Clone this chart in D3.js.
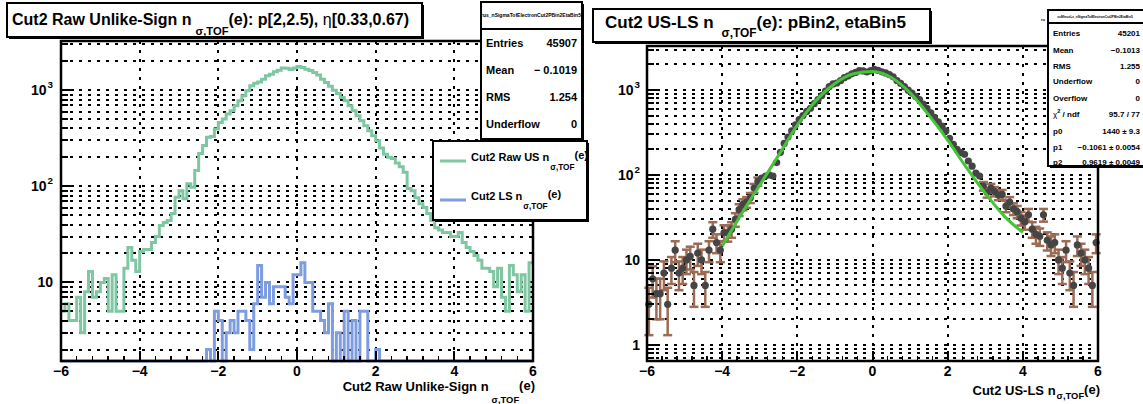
<!DOCTYPE html>
<html>
<head>
<meta charset="utf-8">
<script src="https://cdn.jsdelivr.net/npm/d3@7"></script>
<style>
    html, body { margin: 0; padding: 0; background: #fff; }
    svg { display: block; font-family: 'Liberation Sans', Arial, Helvetica, sans-serif; font-weight: bold; }
</style>
</head>
<body>
<svg id="chart" width="1143" height="404"></svg>
<script>
'use strict';

// 120 bins of 0.1 from -6 to 6
const xMin = -6, xMax = 6, binWidth = 0.1;
const xTicks = [-6, -4, -2, 0, 2, 4, 6];

// raw unlike-sign counts (green)
const usCounts = [
    5, 6, 4, 4, 7, 3, 8, 13, 7, 8, 10, 11, 5, 12, 5, 5, 14, 23, 17, 13,
    21, 22, 22, 26, 30, 39, 42, 44, 52, 77, 90, 74, 106, 98, 146, 220, 265, 323, 330, 394,
    462, 501, 565, 611, 689, 776, 875, 986, 1112, 1180, 1220, 1302, 1411, 1468, 1560, 1617, 1698, 1690, 1640, 1700,
    1760, 1720, 1650, 1600, 1527, 1440, 1300, 1200, 1100, 1000, 925, 841, 776, 689, 611, 542, 481, 427, 379, 336,
    298, 250, 215, 200, 195, 175, 160, 140, 95, 90, 76, 66, 60, 52, 44, 37, 35, 33, 33, 30,
    30, 33, 26, 23, 21, 19, 17, 14, 14, 13, 9, 14, 7, 5, 15, 12, 8, 12, 5, 16
];

// like-sign counts (blue)
const lsCounts = [
    0, 0, 0, 0, 0, 0, 0, 0, 0, 0, 0, 0, 0, 0, 0, 0, 0, 0, 0, 0,
    0, 0, 0, 0, 0, 0, 0, 0, 0, 0, 0, 0, 0, 0, 0, 0, 0, 2, 0, 5,
    4, 0, 3, 4, 3, 5, 5, 4, 2, 6, 15, 7, 10, 6, 9, 9, 9, 7, 6, 12,
    12, 16, 10, 10, 5, 5, 4, 3, 6, 0, 3, 0, 5, 0, 4, 0, 5, 5, 0, 0,
    2, 0, 0, 0, 0, 0, 0, 0, 0, 0, 0, 0, 0, 0, 0, 0, 0, 0, 0, 0,
    0, 0, 0, 0, 0, 0, 0, 0, 0, 0, 0, 0, 0, 0, 0, 0, 0, 0, 0, 0
];

// US-LS points and their errors
const diffCounts = [
    3, 6, 4, 4, 7, 3, 8, 13, 7, 8, 10, 11, 5, 12, 10, 5, 13, 23, 16, 13,
    21, 21, 23, 30, 39, 45, 48, 54, 70, 84, 92, 97, 100, 97, 140, 185, 235, 280, 330, 390,
    450, 500, 560, 610, 690, 770, 860, 970, 1100, 1180, 1210, 1290, 1400, 1460, 1550, 1610, 1690, 1680, 1630, 1690,
    1750, 1700, 1640, 1590, 1520, 1430, 1295, 1195, 1095, 995, 920, 838, 771, 685, 607, 538, 476, 422, 375, 330,
    270, 230, 200, 183, 175, 146, 127, 105, 97, 74, 62, 70, 64, 58, 59, 43, 48, 40, 37, 31,
    28, 34, 23, 20, 19, 34, 17, 15, 16, 10, 8, 13, 7, 5, 15, 12, 10, 8, 5, 16
];
const diffErrors = [
    1.7, 2.4, 2.0, 2.0, 2.6, 1.7, 2.8, 3.6, 2.6, 2.8, 3.2, 3.3, 2.2, 3.5, 3.2, 2.2, 3.6, 4.8, 4.0, 3.6,
    4.6, 4.6, 4.8, 5.5, 6.2, 6.7, 6.9, 7.3, 8.4, 9.2, 9.6, 9.8, 10, 9.8, 11.8, 13.6, 15.3, 16.7, 18.2, 19.7,
    21.3, 22.4, 23.7, 24.8, 26.3, 27.8, 29.4, 31.2, 33.2, 34.4, 35.0, 36.0, 37.5, 38.3, 39.5, 40.2, 41.2, 41.1, 40.5, 41.3,
    42.0, 41.4, 40.6, 40.0, 39.1, 37.9, 36.0, 34.6, 33.2, 31.5, 30.4, 29.0, 27.8, 26.2, 24.7, 23.2, 21.9, 20.6, 19.4, 18.2,
    16.5, 15.2, 14.2, 13.6, 13.3, 12.1, 11.3, 10.3, 9.9, 8.6, 7.9, 8.4, 8.0, 7.6, 7.7, 6.6, 6.9, 6.3, 6.1, 5.6,
    5.3, 5.8, 4.8, 4.5, 4.4, 5.8, 4.1, 3.9, 4.0, 3.2, 2.8, 3.6, 2.6, 2.2, 3.9, 3.5, 3.2, 2.8, 2.2, 4.0
];

// fit curve
const fitX = [-4, -3.5, -3, -2.5, -2, -1.5, -1, -0.5, 0, 0.5, 1, 1.5, 2, 2.5, 3, 3.5, 4];
const fitY = [14.5, 34, 76, 170, 386, 751, 1194, 1552, 1650, 1403, 925, 506, 257, 122, 61, 33, 21];

const leftStats = [['Entries', '45907'], ['Mean', '\u2212 0.1019'], ['RMS', '1.254'], ['Underflow', '0']];
const rightStats = [['Entries', '45201'], ['Mean', '\u22120.1013'], ['RMS', '1.255'], ['Underflow', '0'],
    ['Overflow', '0'], ['CHI', '95.7 / 77'], ['p0', '1440 \u00b1 9.3'], ['p1', '\u22120.1061 \u00b1 0.0054'], ['p2', '0.9619 \u00b1 0.0049']];

const GREEN = '#7fc6a2';
const BLUE = '#7d9de0';
const FIT = '#45c43a';
const BROWN = '#9c6b56';
const MARKER = '#454545';

const svg = d3.select('#chart');

// text with sub/superscripts: pieces = [{text, scale, shift, dx, weight}]
function richText(parent, x, y, size, pieces, anchor) {
    const t = parent.append('text')
        .attr('x', x).attr('y', y)
        .attr('font-size', size)
        .attr('text-anchor', anchor || 'start');
    let prevShift = 0;
    pieces.forEach((p) => {
        const shift = p.shift || 0;
        const ts = t.append('tspan').text(p.text)
            .attr('font-size', size * (p.scale || 1))
            .attr('dy', shift - prevShift);
        if (p.dx) ts.attr('dx', p.dx);
        if (p.weight) ts.attr('font-weight', p.weight);
        prevShift = shift;
    });
    return t;
}

function box(x0, y0, x1, y1, shadow) {
    if (shadow) {
        svg.append('rect').attr('x', x0 + 2).attr('y', y0 + 2)
            .attr('width', x1 - x0).attr('height', y1 - y0).attr('fill', '#000');
    }
    svg.append('rect').attr('x', x0).attr('y', y0)
        .attr('width', x1 - x0).attr('height', y1 - y0)
        .attr('fill', '#fff').attr('stroke', '#000').attr('stroke-width', 2);
}

function makePanel(frame, yDomain) {
    const x = d3.scaleLinear().domain([xMin, xMax]).range([frame.x0, frame.x1]);
    const y = d3.scaleLog().domain(yDomain).range([frame.y1, frame.y0]);
    return {x: x, y: y, frame: frame};
}

function drawGrid(p) {
    const f = p.frame;
    const g = svg.append('g')
        .attr('stroke', '#000').attr('stroke-width', 2)
        .attr('stroke-dasharray', '2.5 6.5').attr('shape-rendering', 'crispEdges');
    g.selectAll('.vg').data(xTicks.filter(t => t > xMin && t < xMax)).enter()
        .append('line')
        .attr('x1', d => p.x(d)).attr('x2', d => p.x(d))
        .attr('y1', f.y0).attr('y2', f.y1);
    g.selectAll('.hg').data(p.y.ticks()).enter()
        .append('line')
        .attr('x1', f.x0).attr('x2', f.x1)
        .attr('y1', d => p.y(d)).attr('y2', d => p.y(d));
}

function drawAxes(p, labelGap) {
    const f = p.frame;
    const g = svg.append('g').attr('stroke', '#000').attr('shape-rendering', 'crispEdges');

    // y ticks: long at decades, short elsewhere
    p.y.ticks().forEach((v) => {
        const major = Math.abs(Math.log10(v) - Math.round(Math.log10(v))) < 1e-9;
        g.append('line')
            .attr('x1', f.x0).attr('x2', f.x0 + (major ? 13 : 7))
            .attr('y1', p.y(v)).attr('y2', p.y(v))
            .attr('stroke-width', 2);
    });

    // x ticks: major every 2, minor every 0.4
    d3.range(xMin, xMax + 0.001, 0.4).forEach((v) => {
        g.append('line')
            .attr('x1', p.x(v)).attr('x2', p.x(v))
            .attr('y1', f.y1).attr('y2', f.y1 - 5)
            .attr('stroke-width', 1.5);
    });
    xTicks.forEach((v) => {
        g.append('line')
            .attr('x1', p.x(v)).attr('x2', p.x(v))
            .attr('y1', f.y1).attr('y2', f.y1 - 10)
            .attr('stroke-width', 2);
    });

    // frame
    svg.append('rect')
        .attr('x', f.x0).attr('y', f.y0)
        .attr('width', f.x1 - f.x0).attr('height', f.y1 - f.y0)
        .attr('fill', 'none').attr('stroke', '#000').attr('stroke-width', 2.5);

    // x labels
    const fmt = d3.format('d');
    svg.append('g').selectAll('text').data(xTicks).enter()
        .append('text')
        .attr('x', d => p.x(d)).attr('y', f.y1 + 15)
        .attr('text-anchor', 'middle').attr('font-size', 14)
        .text(d => fmt(d));

    // y labels at decades
    p.y.ticks().filter(v => Math.abs(Math.log10(v) - Math.round(Math.log10(v))) < 1e-9)
        .forEach((v) => {
            const e = Math.round(Math.log10(v));
            const pieces = e <= 1 ? [{text: String(v)}] :
                [{text: '10'}, {text: String(e), scale: 0.7, shift: -7, dx: 1}];
            richText(svg, f.x0 - labelGap, p.y(v) + 5, 14, pieces, 'end');
        });
}

function stepPath(counts, p) {
    const lo = p.y.domain()[0];
    const pts = [];
    counts.forEach((c, i) => {
        const xa = p.x(xMin + i * binWidth);
        const xb = p.x(xMin + (i + 1) * binWidth);
        const yy = c <= lo ? p.frame.y1 : Math.max(p.frame.y0, p.y(c));
        pts.push([xa, yy], [xb, yy]);
    });
    return d3.line()(pts);
}

// ---------------- left panel ----------------
const left = makePanel({x0: 61, x1: 533, y0: 41, y1: 361}, [1.52, 3250]);
drawGrid(left);

svg.append('path').attr('d', stepPath(usCounts, left))
    .attr('fill', 'none').attr('stroke', GREEN).attr('stroke-width', 3);
svg.append('path').attr('d', stepPath(lsCounts, left))
    .attr('fill', 'none').attr('stroke', BLUE).attr('stroke-width', 3);

drawAxes(left, 8);

richText(svg, 535, 391, 13, [
    {text: 'Cut2 Raw Unlike-Sign n'},
    {text: '\u03c3,TOF', scale: 0.72, shift: 12, dx: 3},
    {text: '(e)', shift: -1}
], 'end');

// title
box(7, 3, 422, 37, true);
richText(svg, 12, 25, 16, [
    {text: 'Cut2 Raw Unlike-Sign n'},
    {text: '\u03c3,TOF', scale: 0.7, shift: 10, dx: 4},
    {text: '(e): p[2,2.5), ', shift: 0},
    {text: '\u03b7', weight: 'normal'},
    {text: '[0.33,0.67)'}
]);

// stats box
box(481, 2, 582, 139, true);
svg.append('line').attr('x1', 481).attr('x2', 582).attr('y1', 29).attr('y2', 29)
    .attr('stroke', '#000').attr('stroke-width', 2);
svg.append('text').attr('x', 531).attr('y', 17).attr('text-anchor', 'middle')
    .attr('font-size', 5).text('rus_nSigmaTofElectronCut2PBin2EtaBin5');
leftStats.forEach((row, i) => {
    const yy = 47 + i * 27;
    svg.append('text').attr('x', 486).attr('y', yy).attr('font-size', 11).text(row[0]);
    svg.append('text').attr('x', 577).attr('y', yy).attr('font-size', 11)
        .attr('text-anchor', 'end').text(row[1]);
});

// legend
box(433, 141, 587, 220, true);
[{c: GREEN, y: 161, label: 'Cut2 Raw US n'}, {c: BLUE, y: 200, label: 'Cut2 LS n'}].forEach((e) => {
    svg.append('line').attr('x1', 440).attr('x2', 466).attr('y1', e.y).attr('y2', e.y)
        .attr('stroke', e.c).attr('stroke-width', 3);
    richText(svg, 471, e.y, 11, [
        {text: e.label},
        {text: '\u03c3,TOF', scale: 0.75, shift: 9, dx: 1},
        {text: '(e)', shift: -2}
    ]);
});

// ---------------- right panel ----------------
const right = makePanel({x0: 647, x1: 1098, y0: 46, y1: 361}, [0.645, 3300]);
drawGrid(right);

const pts = diffCounts.map((v, i) => ({
    x: xMin + (i + 0.5) * binWidth, v: v, e: diffErrors[i]
})).filter(d => d.v > 0);

const lo = right.y.domain()[0];
const eg = svg.append('g').attr('stroke', BROWN).attr('stroke-width', 2.5);
pts.forEach((d) => {
    const cx = right.x(d.x);
    const yTop = Math.max(right.frame.y0, right.y(d.v + d.e));
    const low = d.v - d.e;
    const yBot = low > lo ? right.y(low) : right.frame.y1;
    if ((yBot - yTop) / 2 < 4) return;
    eg.append('line').attr('x1', cx).attr('x2', cx).attr('y1', yTop).attr('y2', yBot);
    eg.append('line').attr('x1', cx - 4.5).attr('x2', cx + 4.5).attr('y1', yTop).attr('y2', yTop);
    if (low > lo) {
        eg.append('line').attr('x1', cx - 4.5).attr('x2', cx + 4.5).attr('y1', yBot).attr('y2', yBot);
    }
});

svg.append('g').selectAll('circle').data(pts).enter()
    .append('circle')
    .attr('cx', d => right.x(d.x)).attr('cy', d => right.y(d.v))
    .attr('r', 3.6).attr('fill', MARKER);

svg.append('path')
    .datum(fitX.map((xv, i) => [xv, fitY[i]]))
    .attr('d', d3.line().x(d => right.x(d[0])).y(d => right.y(d[1])).curve(d3.curveMonotoneX))
    .attr('fill', 'none').attr('stroke', FIT).attr('stroke-width', 3);

drawAxes(right, 7);

richText(svg, 1100, 395, 13, [
    {text: 'Cut2 US-LS n'},
    {text: '\u03c3,TOF', scale: 0.72, shift: 4, dx: 1},
    {text: '(e)', shift: -1}
], 'end');

// title
box(593, 9, 930, 42, true);
richText(svg, 605, 28, 17, [
    {text: 'Cut2 US-LS n'},
    {text: '\u03c3,TOF', scale: 0.7, shift: 9, dx: 8},
    {text: '(e): pBin2, etaBin5', shift: 0}
]);

// stats box
svg.append('text').attr('x', 1041).attr('y', 21).attr('font-size', 4).text('ru');
box(1048, 10, 1150, 166, true);
svg.append('line').attr('x1', 1048).attr('x2', 1150).attr('y1', 23).attr('y2', 23)
    .attr('stroke', '#000').attr('stroke-width', 2);
svg.append('text').attr('x', 1095).attr('y', 18).attr('text-anchor', 'middle')
    .attr('font-size', 3.2).text('usMinusLs_nSigmaTofElectronCut2PBin2EtaBin5');
const rowY = [36, 53, 69, 84, 101, 117, 134, 150, 165];
rightStats.forEach((row, i) => {
    const yy = rowY[i];
    if (row[0] === 'CHI') {
        richText(svg, 1053, yy, 8, [
            {text: '\u03c7', weight: 'normal'},
            {text: '2', scale: 0.7, shift: -4},
            {text: ' / ndf', shift: 0}
        ]);
    } else {
        svg.append('text').attr('x', 1053).attr('y', yy).attr('font-size', 8).text(row[0]);
    }
    svg.append('text').attr('x', 1140).attr('y', yy).attr('font-size', 8)
        .attr('text-anchor', 'end').text(row[1]);
});
</script>
</body>
</html>
